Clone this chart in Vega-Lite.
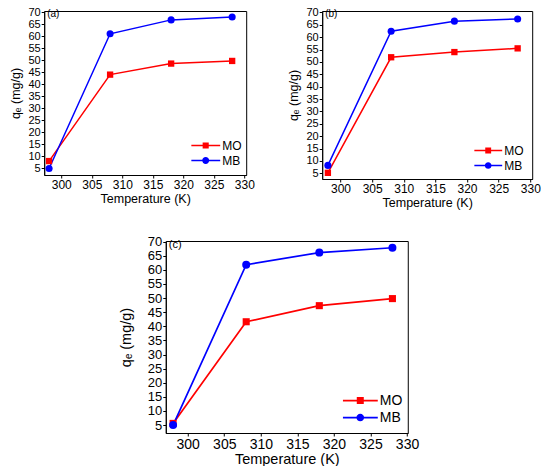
{
  "$schema": "https://vega.github.io/schema/vega-lite/v6.json",
  "padding": {"left": 9, "top": 5, "right": 0, "bottom": 0},
  "spacing": 26,
  "center": true,
  "resolve": {"scale": {"color": "independent", "shape": "independent"}, "legend": {"color": "independent", "shape": "independent"}},
  "config": {
    "font": "Liberation Sans",
    "view": {"stroke": "black", "strokeWidth": 1},
    "axis": {
      "grid": false,
      "domainColor": "black",
      "tickColor": "black",
      "labelColor": "black",
      "titleColor": "black",
      "labelFont": "Liberation Sans",
      "titleFont": "Liberation Sans",
      "titleFontWeight": "normal",
      "labelFontSize": 12,
      "titleFontSize": 12.5,
      "tickSize": 3,
      "labelPadding": 1,
      "labelFlush": false
    },
    "axisX": {"titlePadding": 2},
    "axisY": {"titlePadding": 5, "labelFontSize": 11},
    "legend": {"title": null, "orient": "none", "labelFont": "Liberation Sans", "labelColor": "black", "labelOffset": 2, "rowPadding": 0, "padding": 0, "symbolStrokeWidth": 0, "symbolOpacity": 1},
    "title": {"font": "Liberation Sans", "fontWeight": "normal", "color": "black"}
  },
  "data": {
    "values": [
      {"panel": "a", "dye": "MO", "T": 298, "qe": 8.0},
      {"panel": "a", "dye": "MO", "T": 308, "qe": 44.0},
      {"panel": "a", "dye": "MO", "T": 318, "qe": 48.6},
      {"panel": "a", "dye": "MO", "T": 328, "qe": 49.7},
      {"panel": "a", "dye": "MB", "T": 298, "qe": 4.9},
      {"panel": "a", "dye": "MB", "T": 308, "qe": 61.0},
      {"panel": "a", "dye": "MB", "T": 318, "qe": 66.8},
      {"panel": "a", "dye": "MB", "T": 328, "qe": 68.0},
      {"panel": "b", "dye": "MO", "T": 298, "qe": 5.2},
      {"panel": "b", "dye": "MO", "T": 308, "qe": 51.9},
      {"panel": "b", "dye": "MO", "T": 318, "qe": 54.0},
      {"panel": "b", "dye": "MO", "T": 328, "qe": 55.5},
      {"panel": "b", "dye": "MB", "T": 298, "qe": 8.2},
      {"panel": "b", "dye": "MB", "T": 308, "qe": 62.4},
      {"panel": "b", "dye": "MB", "T": 318, "qe": 66.5},
      {"panel": "b", "dye": "MB", "T": 328, "qe": 67.4},
      {"panel": "c", "dye": "MO", "T": 298, "qe": 5.6},
      {"panel": "c", "dye": "MO", "T": 308, "qe": 41.6},
      {"panel": "c", "dye": "MO", "T": 318, "qe": 47.3},
      {"panel": "c", "dye": "MO", "T": 328, "qe": 49.8},
      {"panel": "c", "dye": "MB", "T": 298, "qe": 5.0},
      {"panel": "c", "dye": "MB", "T": 308, "qe": 61.8},
      {"panel": "c", "dye": "MB", "T": 318, "qe": 66.1},
      {"panel": "c", "dye": "MB", "T": 328, "qe": 67.8}
    ]
  },
  "vconcat": [
    {
      "spacing": 32,
      "resolve": {"scale": {"color": "independent", "shape": "independent"}, "legend": {"color": "independent", "shape": "independent"}},
      "hconcat": [
        {
          "width": 202,
          "height": 164,
          "title": {"text": "(a)", "anchor": "start", "frame": "group", "offset": -13, "dx": 3, "fontSize": 10},
          "transform": [{"filter": "datum.panel === 'a'"}],
          "encoding": {
            "x": {"field": "T", "type": "quantitative", "scale": {"domain": [297.2, 330.3], "nice": false, "zero": false}, "axis": {"values": [300, 305, 310, 315, 320, 325, 330], "title": "Temperature (K)"}},
            "y": {"field": "qe", "type": "quantitative", "scale": {"domain": [2.2, 70.5], "nice": false, "zero": false}, "axis": {"values": [5, 10, 15, 20, 25, 30, 35, 40, 45, 50, 55, 60, 65, 70], "title": "qₑ (mg/g)"}},
            "color": {"field": "dye", "type": "nominal", "scale": {"domain": ["MO", "MB"], "range": ["#ff0000", "#0000ff"]},
              "legend": {"legendX": 147, "legendY": 127, "symbolSize": 841, "labelFontSize": 12, "clipHeight": 15}}
          },
          "layer": [
            {
              "mark": {"type": "point", "filled": true, "opacity": 0},
              "encoding": {
                "shape": {"field": "dye", "type": "nominal", "scale": {"domain": ["MO", "MB"], "range": ["M-1,-0.05H1V0.05H-1Z M-0.21,-0.21H0.21V0.21H-0.21Z", "M-1,-0.05H1V0.05H-1Z M-0.24,0A0.24,0.24 0 1,1 0.24,0A0.24,0.24 0 1,1 -0.24,0Z"]},
                  "legend": {"legendX": 147, "legendY": 127, "symbolSize": 841, "labelFontSize": 12, "clipHeight": 15}}
              }
            },
            {"mark": {"type": "line", "strokeWidth": 1.5}},
            {"transform": [{"filter": "datum.dye === 'MO'"}], "mark": {"type": "point", "shape": "square", "filled": true, "size": 40, "opacity": 1}},
            {"transform": [{"filter": "datum.dye === 'MB'"}], "mark": {"type": "point", "shape": "circle", "filled": true, "size": 50, "opacity": 1}}
          ]
        },
        {
          "width": 210,
          "height": 168,
          "title": {"text": "(b)", "anchor": "start", "frame": "group", "offset": -13, "dx": 3, "fontSize": 10},
          "transform": [{"filter": "datum.panel === 'b'"}],
          "encoding": {
            "x": {"field": "T", "type": "quantitative", "scale": {"domain": [297.1, 330.3], "nice": false, "zero": false}, "axis": {"values": [300, 305, 310, 315, 320, 325, 330], "title": "Temperature (K)"}},
            "y": {"field": "qe", "type": "quantitative", "scale": {"domain": [2.7, 70.6], "nice": false, "zero": false}, "axis": {"values": [5, 10, 15, 20, 25, 30, 35, 40, 45, 50, 55, 60, 65, 70], "title": "qₑ (mg/g)"}},
            "color": {"field": "dye", "type": "nominal", "scale": {"domain": ["MO", "MB"], "range": ["#ff0000", "#0000ff"]},
              "legend": {"legendX": 152, "legendY": 132, "symbolSize": 784, "labelFontSize": 12, "clipHeight": 15}}
          },
          "layer": [
            {
              "mark": {"type": "point", "filled": true, "opacity": 0},
              "encoding": {
                "shape": {"field": "dye", "type": "nominal", "scale": {"domain": ["MO", "MB"], "range": ["M-1,-0.05H1V0.05H-1Z M-0.21,-0.21H0.21V0.21H-0.21Z", "M-1,-0.05H1V0.05H-1Z M-0.24,0A0.24,0.24 0 1,1 0.24,0A0.24,0.24 0 1,1 -0.24,0Z"]},
                  "legend": {"legendX": 152, "legendY": 132, "symbolSize": 784, "labelFontSize": 12, "clipHeight": 15}}
              }
            },
            {"mark": {"type": "line", "strokeWidth": 1.5}},
            {"transform": [{"filter": "datum.dye === 'MO'"}], "mark": {"type": "point", "shape": "square", "filled": true, "size": 40, "opacity": 1}},
            {"transform": [{"filter": "datum.dye === 'MB'"}], "mark": {"type": "point", "shape": "circle", "filled": true, "size": 50, "opacity": 1}}
          ]
        }
      ]
    },
    {
      "width": 242,
      "height": 192,
      "title": {"text": "(c)", "anchor": "start", "frame": "group", "offset": -14, "dx": 3, "fontSize": 11},
      "transform": [{"filter": "datum.panel === 'c'"}],
      "encoding": {
        "x": {"field": "T", "type": "quantitative", "scale": {"domain": [297.0, 330.1], "nice": false, "zero": false}, "axis": {"values": [300, 305, 310, 315, 320, 325, 330], "title": "Temperature (K)", "labelFontSize": 14, "titleFontSize": 14.5, "titlePadding": 1}},
        "y": {"field": "qe", "type": "quantitative", "scale": {"domain": [2.2, 70.2], "nice": false, "zero": false}, "axis": {"values": [5, 10, 15, 20, 25, 30, 35, 40, 45, 50, 55, 60, 65, 70], "title": "qₑ (mg/g)", "labelFontSize": 13, "titleFontSize": 14.5, "titlePadding": 14}},
        "color": {"field": "dye", "type": "nominal", "scale": {"domain": ["MO", "MB"], "range": ["#ff0000", "#0000ff"]},
          "legend": {"legendX": 177, "legendY": 151, "symbolSize": 1225, "labelFontSize": 14, "clipHeight": 17}}
      },
      "layer": [
        {
          "mark": {"type": "point", "filled": true, "opacity": 0},
          "encoding": {
            "shape": {"field": "dye", "type": "nominal", "scale": {"domain": ["MO", "MB"], "range": ["M-1,-0.05H1V0.05H-1Z M-0.2,-0.2H0.2V0.2H-0.2Z", "M-1,-0.05H1V0.05H-1Z M-0.22,0A0.22,0.22 0 1,1 0.22,0A0.22,0.22 0 1,1 -0.22,0Z"]},
              "legend": {"legendX": 177, "legendY": 151, "symbolSize": 1225, "labelFontSize": 14, "clipHeight": 17}}
          }
        },
        {"mark": {"type": "line", "strokeWidth": 1.7}},
        {"transform": [{"filter": "datum.dye === 'MO'"}], "mark": {"type": "point", "shape": "square", "filled": true, "size": 50, "opacity": 1}},
        {"transform": [{"filter": "datum.dye === 'MB'"}], "mark": {"type": "point", "shape": "circle", "filled": true, "size": 64, "opacity": 1}}
      ]
    }
  ]
}
